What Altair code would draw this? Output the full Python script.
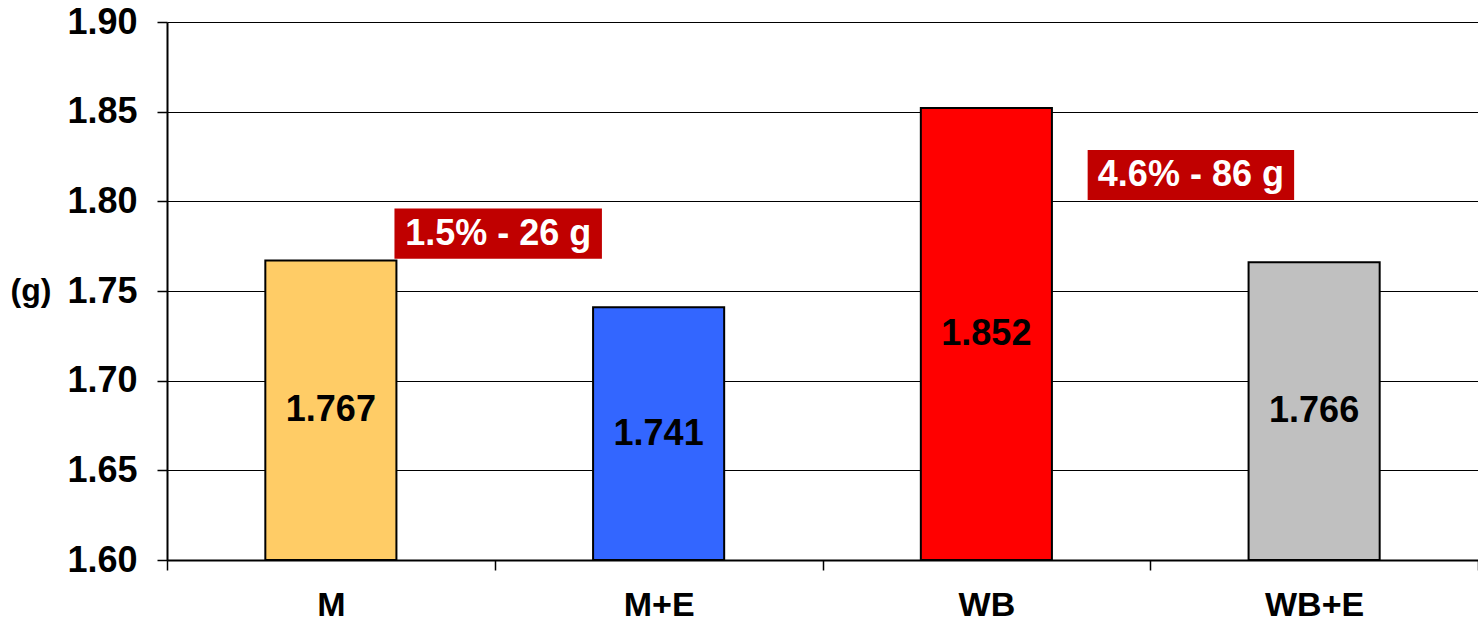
import altair as alt
import pandas as pd

categories = ["M", "M+E", "WB", "WB+E"]
values = [1.767, 1.741, 1.852, 1.766]
colors = ["#FFCC66", "#3366FF", "#FF0000", "#C0C0C0"]

ann_text = ["1.5% - 26 g", "4.6% - 86 g"]
ann_x0 = [0.694, 2.809]
ann_x1 = [1.327, 3.439]
ann_y0 = [1.768, 1.8007]
ann_y1 = [1.796, 1.8286]

y_ticks = [1.60, 1.65, 1.70, 1.75, 1.80, 1.85, 1.90]

FONT = "Liberation Sans"

df = pd.DataFrame({"cat": categories, "value": values, "base": [1.60] * len(values)})
df["label"] = [f"{v:.3f}" for v in values]
df["mid"] = (df["value"] + df["base"]) / 2

ann = pd.DataFrame({
    "text": ann_text, "x0": ann_x0, "x1": ann_x1, "y0": ann_y0, "y1": ann_y1,
})
ann["xc"] = (ann["x0"] + ann["x1"]) / 2
ann["yc"] = (ann["y0"] + ann["y1"]) / 2

yscale = alt.Scale(domain=[1.60, 1.90], zero=False, nice=False)
xscale = alt.Scale(domain=categories, paddingInner=0, paddingOuter=0)

yaxis = alt.Axis(
    values=y_ticks, format=".2f", grid=True, gridColor="black", gridWidth=1,
    domainColor="black", domainWidth=2, tickColor="black", tickWidth=1.5, tickSize=10,
    labelPadding=20, labelFontSize=36, labelFont=FONT, labelFontWeight="bold",
    labelColor="black", title="(g)", titleAngle=0, titleX=-157, titleY=268,
    titleAlign="left", titleBaseline="middle", titleFontSize=32, titleFont=FONT,
    titleFontWeight="bold", titleColor="black",
)
xaxis = alt.Axis(
    tickBand="extent", tickSize=10, tickColor="black", tickWidth=1.5,
    domainColor="black", domainWidth=2, labelAngle=0, labelPadding=18,
    labelFontSize=34, labelFont=FONT, labelFontWeight="bold", labelColor="black",
    title=None, grid=False,
)

bars = alt.Chart(df).mark_bar(
    stroke="black", strokeWidth=2, width=alt.RelativeBandSize(0.4)
).encode(
    x=alt.X("cat:N", scale=xscale, axis=xaxis, sort=categories),
    y=alt.Y("value:Q", scale=yscale, axis=yaxis),
    y2="base:Q",
    color=alt.Color("cat:N", scale=alt.Scale(domain=categories, range=colors), legend=None),
)

vals = alt.Chart(df).mark_text(
    font=FONT, fontSize=36, fontWeight="bold", color="black", baseline="middle"
).encode(
    x=alt.X("cat:N", scale=xscale, sort=categories),
    y=alt.Y("mid:Q", scale=yscale),
    text="label:N",
)

bars_layer = alt.layer(bars, vals)

xq = alt.Scale(domain=[0, 4], nice=False, zero=False)
ann_rect = alt.Chart(ann).mark_rect(color="#C00000").encode(
    x=alt.X("x0:Q", scale=xq, axis=None),
    x2="x1:Q",
    y=alt.Y("y0:Q", scale=yscale),
    y2="y1:Q",
)
ann_txt = alt.Chart(ann).mark_text(
    font=FONT, fontSize=36, fontWeight="bold", color="white", baseline="middle"
).encode(
    x=alt.X("xc:Q", scale=xq, axis=None),
    y=alt.Y("yc:Q", scale=yscale),
    text="text:N",
)
ann_layer = alt.layer(ann_rect, ann_txt)

chart = alt.layer(bars_layer, ann_layer).resolve_scale(x="independent").properties(
    width=1311, height=538,
    padding={"left": 167, "top": 22, "right": 0, "bottom": 64},
    autosize=alt.AutoSizeParams(type="none"),
).configure_view(strokeWidth=0).configure(background="white")

chart.save("out.html", embed_options={"renderer": "svg", "actions": False})
